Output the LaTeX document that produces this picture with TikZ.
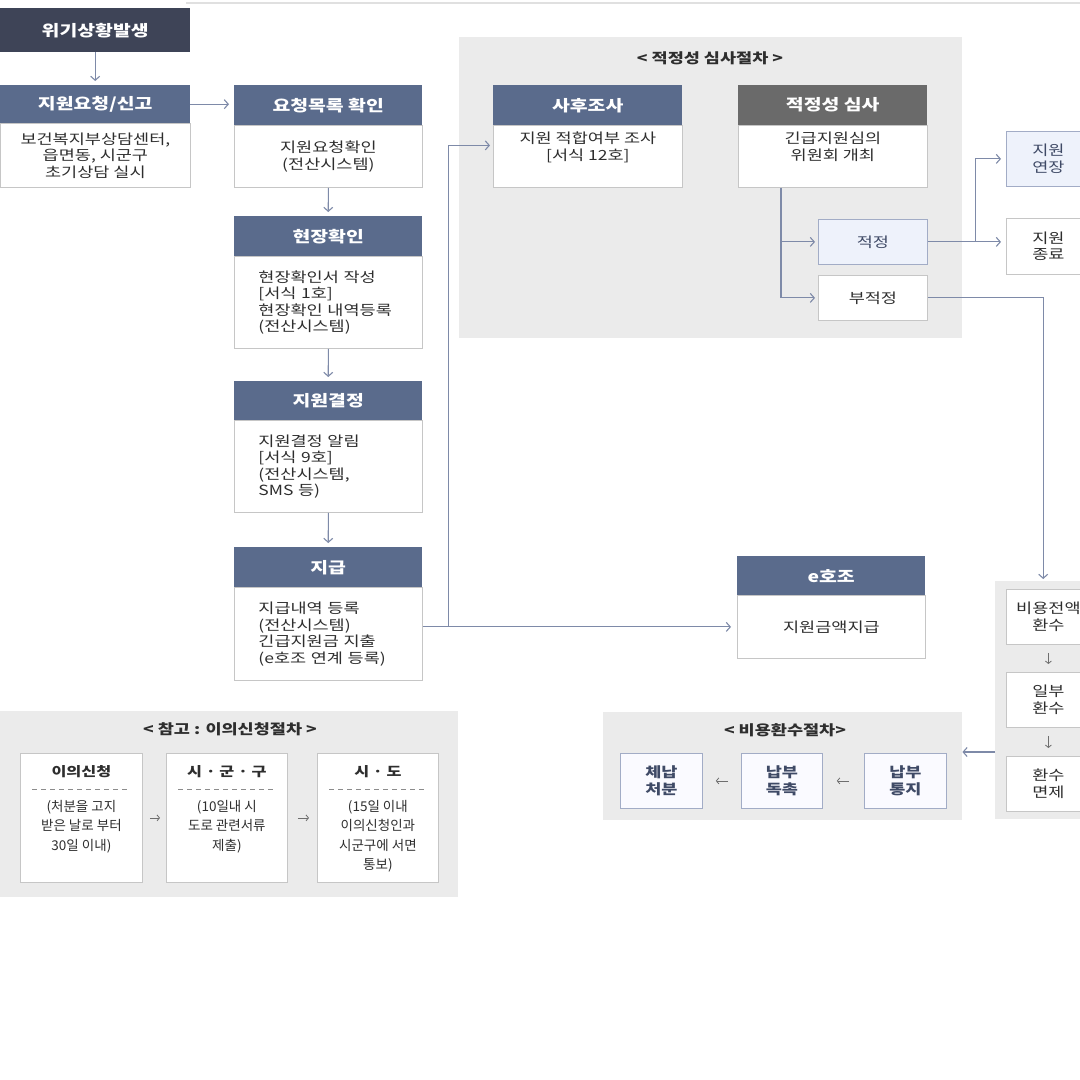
\documentclass[tikz,border=0pt]{standalone}
\usepackage{fontspec}
\setmainfont{Noto Sans CJK KR}[FakeStretch=1.25]
\newfontfamily\krnarrow{Noto Sans CJK KR}
\usetikzlibrary{arrows.meta}
\definecolor{navy}{HTML}{3E4457}
\definecolor{hblue}{HTML}{5A6B8C}
\definecolor{ggray}{HTML}{6A6A6A}
\definecolor{panelgray}{HTML}{EBEBEB}
\definecolor{bord}{HTML}{C6C6C6}
\definecolor{txt}{HTML}{2E2E2E}
\definecolor{ntxt}{HTML}{3F4A66}
\definecolor{lblue}{HTML}{EEF2FB}
\definecolor{lbord}{HTML}{A2ACC6}
\definecolor{ccol}{HTML}{7E8AA8}
\definecolor{sarr}{HTML}{6E6E6E}
\newcommand\hdrfont{\bfseries\fontsize{15.5}{18}\selectfont}
\newcommand\bodyfont{\fontsize{14}{16.5}\selectfont}
\newcommand\ttlfont{\bfseries\fontsize{14}{16}\selectfont}
\newcommand\smallbody{\krnarrow\fontsize{13.5}{19.5}\selectfont}
\begin{document}
\begin{tikzpicture}[x=1pt,y=-1pt,
  hdr/.style={fill=hblue, text=white, font=\hdrfont, anchor=north west, inner sep=0pt, minimum height=40pt},
  hdrgray/.style={hdr, fill=ggray},
  bbox/.style={draw=bord, line width=0.8pt, fill=white, anchor=north west, inner sep=0pt, font=\bodyfont, text=txt, align=center},
  lbox/.style={bbox, align=left, text width=140pt, inner xsep=24pt, inner ysep=0pt},
  pbox/.style={bbox, draw=lbord, fill=lblue, text=ntxt},
  qbox/.style={bbox, draw=lbord, fill=blue!2, text=ntxt, font=\bfseries\fontsize{14}{17.5}\selectfont},
  panel/.style={fill=panelgray, anchor=north west, inner sep=0pt},
  ttl/.style={font=\ttlfont, text=txt, inner sep=0pt},
  conn/.style={draw=ccol, line width=1.1pt, -{Straight Barb[length=4pt,width=9pt]}},
  sconn/.style={draw=sarr, line width=0.8pt, -{Straight Barb[length=2.5pt,width=6pt]}}
]
\useasboundingbox (0,0) rectangle (1080,1080);
\clip (0,0) rectangle (1080,1080);
\fill[white] (0,0) rectangle (1080,1080);
\draw[black!12, line width=1.5pt] (186,3) -- (1080,3);

% panels
\node[panel, minimum width=503pt, minimum height=301pt] (ppanel) at (459,37) {};
\node[ttl] (ptitle) at (710,58) {< 적정성 심사절차 >};
\node[panel, minimum width=96pt, minimum height=238pt] (rpanel) at (995,581) {};
\node[panel, minimum width=359pt, minimum height=108pt] (bpanel) at (603,712) {};
\node[ttl] (btitle) at (785,730) {< 비용환수절차>};
\node[panel, minimum width=458pt, minimum height=186pt] (lpanel) at (0,711) {};
\node[ttl] (ltitle) at (230,729) {< 참고 : 이의신청절차 >};

% start
\node[hdr, fill=navy, minimum width=190pt, minimum height=44pt] (wg) at (0,8) {위기상황발생};

% column A
\node[bbox, minimum width=190pt, minimum height=64pt] (b1) at (0,123) {보건복지부상담센터,\\읍면동, 시군구\\초기상담 실시};
\node[hdr, minimum width=190pt, minimum height=38pt] (h1) at (0,85) {지원요청/신고};

% column B
\node[bbox, minimum width=188pt, minimum height=62pt] (b2) at (234,125) {지원요청확인\\(전산시스템)};
\node[hdr, minimum width=188pt] (h2) at (234,85) {요청목록 확인};
\node[lbox, minimum height=92pt] (b3) at (234,256) {현장확인서 작성\\{[}서식 1호{]}\\현장확인 내역등록\\(전산시스템)};
\node[hdr, minimum width=188pt] (h3) at (234,216) {현장확인};
\node[lbox, minimum height=92pt] (b4) at (234,420) {지원결정 알림\\{[}서식 9호{]}\\(전산시스템,\\SMS 등)};
\node[hdr, minimum width=188pt, minimum height=39pt] (h4) at (234,381) {지원결정};
\node[lbox, minimum height=93pt] (b5) at (234,587) {지급내역 등록\\(전산시스템)\\긴급지원금 지출\\(e호조 연계 등록)};
\node[hdr, minimum width=188pt] (h5) at (234,547) {지급};

% suitability review
\node[bbox, minimum width=189pt, minimum height=62pt] (b6) at (493,125) {지원 적합여부 조사\\{[}서식 12호{]}\\[4pt]};
\node[hdr, minimum width=189pt] (h6) at (493,85) {사후조사};
\node[bbox, minimum width=189pt, minimum height=62pt] (b7) at (738,125) {긴급지원심의\\위원회 개최\\[4pt]};
\node[hdrgray, minimum width=189pt] (h7) at (738,85) {적정성 심사};
\node[pbox, minimum width=109pt, minimum height=45pt] (jeok) at (818,219) {적정};
\node[bbox, minimum width=109pt, minimum height=45pt] (bujeok) at (818,275) {부적정};
\node[pbox, minimum width=84pt, minimum height=55pt] (yeonjang) at (1006,131) {지원\\연장};
\node[bbox, minimum width=84pt, minimum height=56pt] (jongryo) at (1006,218) {지원\\종료};

% e-hojo
\node[bbox, minimum width=188pt, minimum height=63pt] (b8) at (737,595) {지원금액지급};
\node[hdr, minimum width=188pt, minimum height=39pt] (h8) at (737,556) {e호조};

% refund column
\node[bbox, minimum width=84pt, minimum height=55pt] (rb1) at (1006,589) {비용전액\\환수};
\node[bbox, minimum width=84pt, minimum height=55pt] (rb2) at (1006,672) {일부\\환수};
\node[bbox, minimum width=84pt, minimum height=55pt] (rb3) at (1006,756) {환수\\면제};

% refund procedure
\node[qbox, minimum width=82pt, minimum height=55pt] (q1) at (620,753) {체납\\처분};
\node[qbox, minimum width=81pt, minimum height=55pt] (q2) at (741,753) {납부\\독촉};
\node[qbox, minimum width=82pt, minimum height=55pt] (q3) at (864,753) {납부\\통지};

% objection procedure
\node[bbox, minimum width=122pt, minimum height=129pt] (o1) at (20,753) {};
\node[bbox, minimum width=121pt, minimum height=129pt] (o2) at (166,753) {};
\node[bbox, minimum width=121pt, minimum height=129pt] (o3) at (317,753) {};
\foreach \o/\t in {o1/이의신청, o2/시 · 군 · 구, o3/시 · 도}{
  \node[font=\bfseries\fontsize{13}{15}\selectfont, text=txt, inner sep=0pt] (\o t) at ([yshift=-19pt]\o.north) {\t};
  \draw[black!45, line width=0.7pt, dash pattern=on 5pt off 4pt] ([xshift=12pt,yshift=-36pt]\o.north west) -- ([xshift=-12pt,yshift=-36pt]\o.north east);
}
\node[font=\smallbody, text=txt, align=center, anchor=north, inner sep=0pt] (o1b) at ([yshift=-47pt]o1.north) {(처분을 고지\\받은 날로 부터\\30일 이내)};
\node[font=\smallbody, text=txt, align=center, anchor=north, inner sep=0pt] (o2b) at ([yshift=-47pt]o2.north) {(10일내 시\\도로 관련서류\\제출)};
\node[font=\smallbody, text=txt, align=center, anchor=north, inner sep=0pt] (o3b) at ([yshift=-47pt]o3.north) {(15일 이내\\이의신청인과\\시군구에 서면\\통보)};

% connectors
\draw[conn, shorten >=4pt] (wg.south) -- (h1.north);
\draw[conn, shorten >=5pt] (h1.east) -- (h1.east -| h2.west);
\draw[conn, shorten >=4pt] (b2.south) -- (h3.north);
\draw[conn, shorten >=4pt] (b3.south) -- (h4.north);
\draw[conn, shorten >=4pt] (b4.south) -- (h5.north);
\draw[conn, shorten >=6pt] (b5.east |- b8.west) -- (b8.west);
\draw[conn, shorten >=3pt] (b5.east |- b8.west) ++(26,0) |- ([yshift=11pt]b6.west);
\draw[conn, shorten >=3pt] ([xshift=43pt]b7.south west) |- (jeok.west);
\draw[conn, shorten >=3pt] ([xshift=43pt]b7.south west) |- (bujeok.west);
\draw[conn, shorten >=5pt] (jeok.east) -- (jeok.east -| jongryo.west);
\path (jeok.east) ++(48,0) coordinate (br);
\draw[conn, shorten >=5pt] (br) |- (yeonjang.west);
\draw[conn, shorten >=2pt] (bujeok.east) -| (rpanel.north);
\draw[conn] (rpanel.west |- 0,752) -- (bpanel.east |- 0,752);
\draw[sconn, shorten <=8pt, shorten >=8pt] (rb1.south) -- (rb2.north);
\draw[sconn, shorten <=8pt, shorten >=8pt] (rb2.south) -- (rb3.north);
\draw[sconn, shorten <=15pt, shorten >=14pt] (q3.west) -- (q2.east);
\draw[sconn, shorten <=13pt, shorten >=13pt] (q2.west) -- (q1.east);
\draw[sconn, shorten <=7pt, shorten >=6pt] (o1.east) -- (o2.west);
\draw[sconn, shorten <=10pt, shorten >=8pt] (o2.east) -- (o3.west);
\end{tikzpicture}
\end{document}
